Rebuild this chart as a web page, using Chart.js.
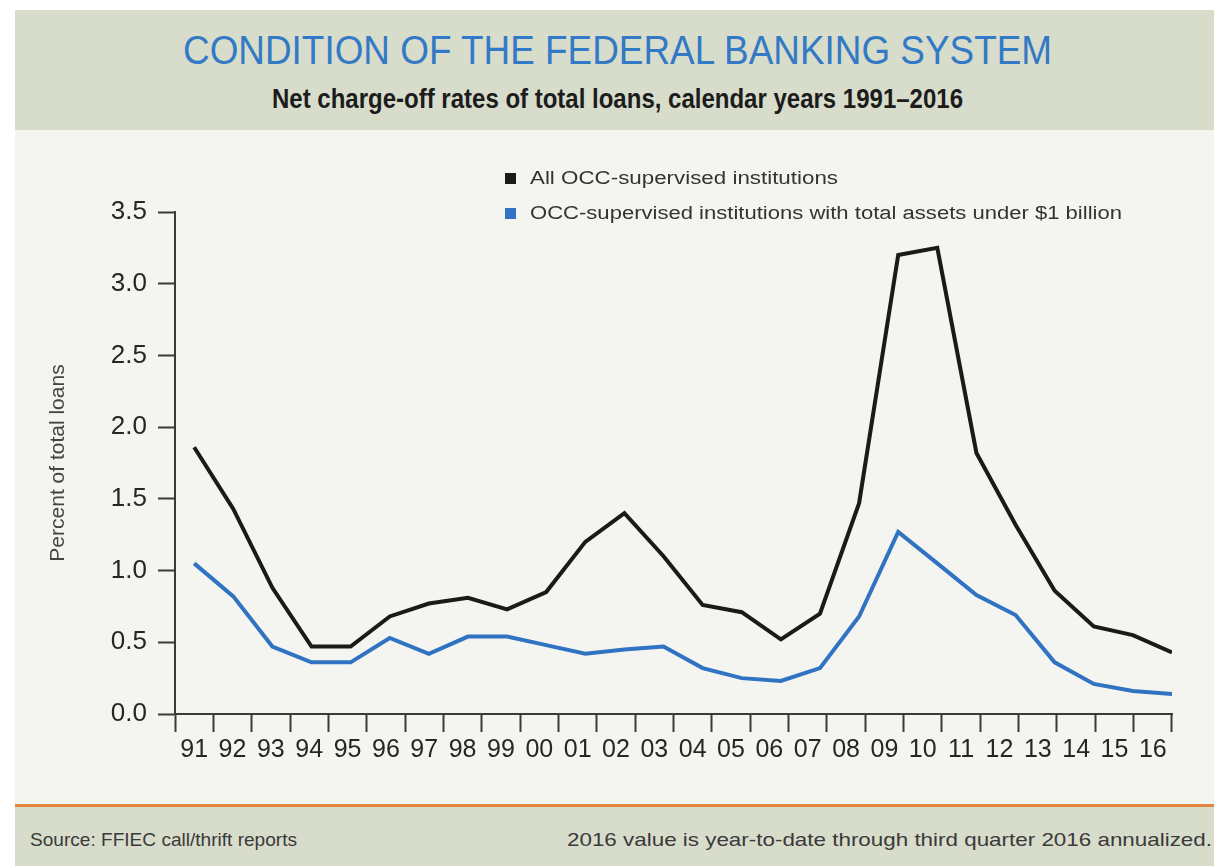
<!DOCTYPE html>
<html>
<head>
<title>Condition of the Federal Banking System</title>
<script src="https://cdn.jsdelivr.net/npm/chart.js"></script>
<style>
body {
    margin: 0;
    background: #ffffff;
    font-family: 'Liberation Sans', Arial, sans-serif;
}
#page {
    position: relative;
    width: 1224px;
    height: 866px;
    overflow: hidden;
}
#header {
    position: absolute;
    left: 15px;
    top: 10px;
    width: 1199px;
    height: 120px;
    background: #d8dccb;
}
#plotBg {
    position: absolute;
    left: 15px;
    top: 130px;
    width: 1199px;
    height: 675px;
    background: #f4f5f0;
}
#chart {
    position: absolute;
    left: 15px;
    top: 130px;
}
#rule {
    position: absolute;
    left: 15px;
    top: 804px;
    width: 1199px;
    height: 3px;
    background: #e38740;
}
#footer {
    position: absolute;
    left: 15px;
    top: 807px;
    width: 1199px;
    height: 59px;
    background: #d8dccb;
}
.fit {
    position: absolute;
    white-space: nowrap;
    line-height: 1;
}
.key {
    position: absolute;
    width: 11px;
    height: 11px;
}
</style>
</head>
<body>
<div id="page">
  <div id="header"></div>
  <div id="plotBg"></div>
  <canvas id="chart" width="1200" height="676"></canvas>
  <div id="rule"></div>
  <div id="footer"></div>

  <div class="fit" data-x="183" data-w="869" style="top:30px;font-size:41px;color:#3279c6;">CONDITION OF THE FEDERAL BANKING SYSTEM</div>
  <div class="fit" data-x="272" data-w="691" style="top:86px;font-size:27px;color:#1c1c1c;font-weight:bold;">Net charge-off rates of total loans, calendar years 1991&ndash;2016</div>

  <div class="key" style="left:505px;top:173px;background:#1a1a1a;"></div>
  <div class="fit" data-x="530" data-w="308" style="top:169px;font-size:18px;color:#333;">All OCC-supervised institutions</div>
  <div class="key" style="left:505px;top:208px;background:#2f73c2;"></div>
  <div class="fit" data-x="530" data-w="592" style="top:204px;font-size:18px;color:#333;">OCC-supervised institutions with total assets under $1 billion</div>

  <div class="fit" data-x="30" data-w="267" style="top:830px;font-size:19px;color:#3a3a3a;">Source: FFIEC call/thrift reports</div>
  <div class="fit" data-x="567" data-w="645" style="top:830px;font-size:19px;color:#3a3a3a;">2016 value is year-to-date through third quarter 2016 annualized.</div>
</div>

<script>
// years on the x axis
const years = ['91', '92', '93', '94', '95', '96', '97', '98', '99', '00', '01', '02', '03',
               '04', '05', '06', '07', '08', '09', '10', '11', '12', '13', '14', '15', '16'];

// net charge-off rate, percent of total loans
const allOcc = [1.86, 1.43, 0.88, 0.47, 0.47, 0.68, 0.77, 0.81, 0.73, 0.85, 1.20, 1.40, 1.10,
                0.76, 0.71, 0.52, 0.70, 1.47, 3.20, 3.25, 1.82, 1.32, 0.86, 0.61, 0.55, 0.43];
const smallOcc = [1.05, 0.82, 0.47, 0.36, 0.36, 0.53, 0.42, 0.54, 0.54, 0.48, 0.42, 0.45, 0.47,
                  0.32, 0.25, 0.23, 0.32, 0.68, 1.27, 1.05, 0.83, 0.69, 0.36, 0.21, 0.16, 0.14];

const yTicks = [0, 0.5, 1.0, 1.5, 2.0, 2.5, 3.0, 3.5];

// squeeze header/footer text into the widths used in the original artwork
function fitTexts() {
    document.querySelectorAll('.fit').forEach(el => {
        el.style.left = el.dataset.x + 'px';
        const w = el.getBoundingClientRect().width;
        el.style.transformOrigin = 'left top';
        el.style.transform = 'scaleX(' + (el.dataset.w / w) + ')';
    });
}

function toPoints(arr) {
    return arr.map((v, i) => ({ x: i, y: v }));
}

function createChart() {
    const ctx = document.getElementById('chart').getContext('2d');
    new Chart(ctx, {
        type: 'line',
        data: {
            labels: years,
            datasets: [
                {
                    label: 'All OCC-supervised institutions',
                    data: toPoints(allOcc),
                    xAxisID: 'xd',
                    borderColor: '#1a1a1a',
                    borderWidth: 4,
                    pointRadius: 0,
                    tension: 0
                },
                {
                    label: 'OCC-supervised institutions with total assets under $1 billion',
                    data: toPoints(smallOcc),
                    xAxisID: 'xd',
                    borderColor: '#2f73c2',
                    borderWidth: 4,
                    pointRadius: 0,
                    tension: 0
                }
            ]
        },
        options: {
            responsive: false,
            animation: false,
            layout: { padding: { left: 0, top: 82, right: 43, bottom: 0 } },
            plugins: {
                legend: { display: false },
                tooltip: { enabled: false }
            },
            scales: {
                x: {
                    type: 'category',
                    offset: true,
                    grid: {
                        offset: true,
                        drawOnChartArea: false,
                        tickLength: 18,
                        tickWidth: 2,
                        color: '#3a3a3a'
                    },
                    border: { display: true, color: '#3a3a3a', width: 2 },
                    ticks: {
                        color: '#262626',
                        padding: 3,
                        maxRotation: 0,
                        autoSkip: false,
                        font: { family: "'Liberation Sans', Arial, sans-serif", size: 25 }
                    },
                    afterFit: s => { s.height = 92; }
                },
                xd: {
                    type: 'linear',
                    display: false,
                    min: -0.49,
                    max: 25
                },
                y: {
                    min: 0,
                    max: 3.5,
                    afterBuildTicks: s => { s.ticks = yTicks.map(v => ({ value: v })); },
                    grid: {
                        drawOnChartArea: false,
                        tickLength: 17,
                        tickWidth: 2,
                        color: '#3a3a3a'
                    },
                    border: { display: true, color: '#3a3a3a', width: 2 },
                    ticks: {
                        color: '#262626',
                        padding: 11,
                        callback: v => v.toFixed(1),
                        font: { family: "'Liberation Sans', Arial, sans-serif", size: 26 }
                    },
                    title: {
                        display: true,
                        text: 'Percent of total loans',
                        color: '#444',
                        padding: { top: 31, bottom: 0 },
                        font: { family: "'Liberation Sans', Arial, sans-serif", size: 21 }
                    },
                    afterFit: s => { s.width = 160; }
                }
            }
        }
    });
}

document.addEventListener('DOMContentLoaded', () => {
    fitTexts();
    createChart();
});
</script>
</body>
</html>
